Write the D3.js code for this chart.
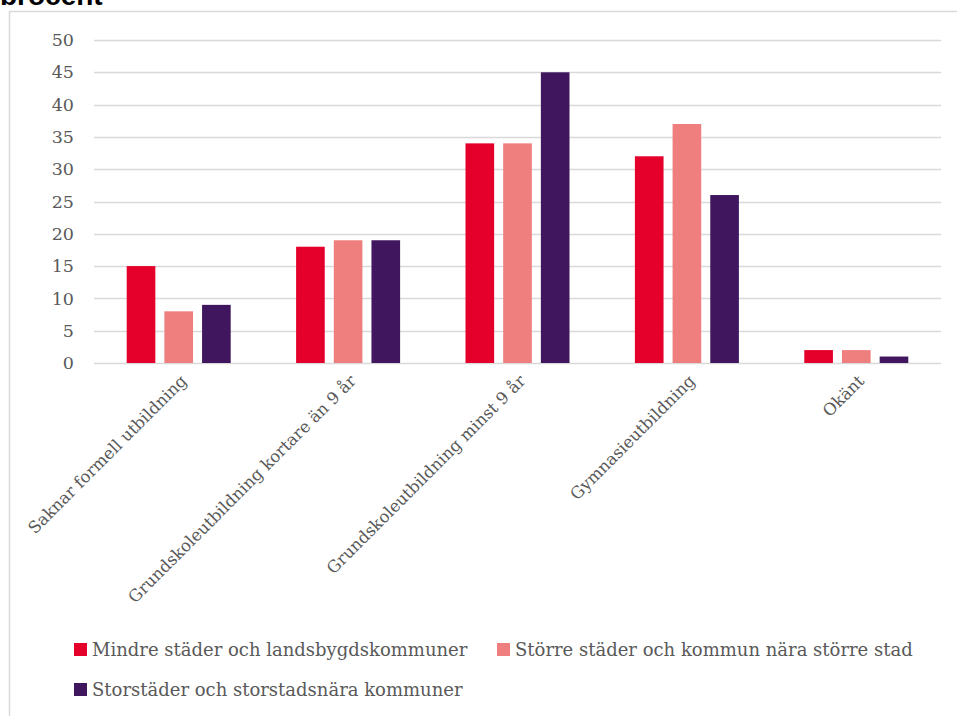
<!DOCTYPE html>
<html lang="sv">
<head>
    <meta charset="utf-8">
    <script src="https://cdn.jsdelivr.net/npm/d3@7"></script>
    <style>
        body { margin: 0; background: #fff; }
    </style>
</head>
<body>

<script>
    var w = 957;
    var h = 716;
    var serif = "'DejaVu Serif', serif";

    var categories = [
        'Saknar formell utbildning',
        'Grundskoleutbildning kortare än 9 år',
        'Grundskoleutbildning minst 9 år',
        'Gymnasieutbildning',
        'Okänt'
    ];
    var seriesNames = [
        'Mindre städer och landsbygdskommuner',
        'Större städer och kommun nära större stad',
        'Storstäder och storstadsnära kommuner'
    ];
    var mindre = [15, 18, 34, 32, 2];
    var storre = [8, 19, 34, 37, 2];
    var storstad = [9, 19, 45, 26, 1];
    var yTicks = [0, 5, 10, 15, 20, 25, 30, 35, 40, 45, 50];
    var colors = ['#e4002b', '#ef7f7e', '#40175e'];

    var series = [mindre, storre, storstad];

    var svg = d3.select('body').append('svg')
        .attr('width', w)
        .attr('height', h)
        .style('display', 'block');

    // title, cut off at the top like the source image
    svg.append('clipPath')
        .attr('id', 'topclip')
        .append('rect')
        .attr('x', 0).attr('y', 0)
        .attr('width', w).attr('height', 5);

    svg.append('text')
        .attr('x', 0)
        .attr('y', 5)
        .attr('clip-path', 'url(#topclip)')
        .text('procent')
        .attr('font-family', "'Liberation Sans', Arial, sans-serif")
        .attr('font-weight', 'bold')
        .attr('font-size', '28px')
        .attr('fill', '#000');

    // frame
    svg.append('path')
        .attr('d', 'M9.5,' + h + 'V11.5H' + w)
        .attr('fill', 'none')
        .attr('stroke', '#d9d9d9')
        .attr('stroke-width', 1.5);

    var x0 = d3.scaleBand()
        .domain(categories)
        .range([94, 941]);

    var x1 = d3.scaleBand()
        .domain([0, 1, 2])
        .range([0, 104])
        .paddingInner(0.24);

    var y = d3.scaleLinear()
        .domain([0, 50])
        .range([363, 40]);

    // gridlines
    svg.append('g')
        .selectAll('line')
        .data(yTicks)
        .enter()
        .append('line')
        .attr('x1', 94)
        .attr('x2', 941)
        .attr('y1', function(d) { return Math.round(y(d)) + 0.5; })
        .attr('y2', function(d) { return Math.round(y(d)) + 0.5; })
        .attr('stroke', '#d9d9d9')
        .attr('stroke-width', 1.5);

    // y axis labels
    svg.append('g')
        .selectAll('text')
        .data(yTicks)
        .enter()
        .append('text')
        .attr('x', 74)
        .attr('y', function(d) { return y(d); })
        .attr('dy', '0.35em')
        .attr('text-anchor', 'end')
        .style('font-family', serif)
        .attr('font-size', '17.5px')
        .attr('fill', '#595959')
        .text(function(d) { return d; });

    // bars
    var groups = svg.append('g')
        .selectAll('g')
        .data(categories)
        .enter()
        .append('g')
        .attr('transform', function(d) {
            return 'translate(' + (x0(d) + x0.bandwidth() / 2 - 52) + ',0)';
        });

    groups.selectAll('rect')
        .data(function(d, i) {
            return series.map(function(s, j) { return {k: j, v: s[i]}; });
        })
        .enter()
        .append('rect')
        .attr('x', function(d) { return x1(d.k); })
        .attr('width', x1.bandwidth())
        .attr('y', function(d) { return y(d.v); })
        .attr('height', function(d) { return y(0) - y(d.v); })
        .attr('fill', function(d) { return colors[d.k]; });

    // category labels, rotated
    svg.append('g')
        .selectAll('text')
        .data(categories)
        .enter()
        .append('text')
        .attr('transform', function(d) {
            var cx = x0(d) + x0.bandwidth() / 2 + 9;
            return 'translate(' + cx + ',382) rotate(-45)';
        })
        .attr('text-anchor', 'end')
        .style('font-family', serif)
        .attr('font-size', '16.5px')
        .attr('fill', '#595959')
        .text(function(d) { return d; });

    // legend
    var legendPos = [[74, 650], [497, 650], [74, 690]];
    var legend = svg.append('g')
        .selectAll('g')
        .data(seriesNames)
        .enter()
        .append('g')
        .attr('transform', function(d, i) {
            return 'translate(' + legendPos[i][0] + ',' + legendPos[i][1] + ')';
        });

    legend.append('rect')
        .attr('x', 0)
        .attr('y', -7)
        .attr('width', 13)
        .attr('height', 13)
        .attr('fill', function(d, i) { return colors[i]; });

    legend.append('text')
        .attr('x', 18)
        .attr('y', 0)
        .attr('dy', '0.35em')
        .style('font-family', serif)
        .attr('font-size', '18px')
        .attr('fill', '#595959')
        .text(function(d) { return d; });
</script>
</body>
</html>
